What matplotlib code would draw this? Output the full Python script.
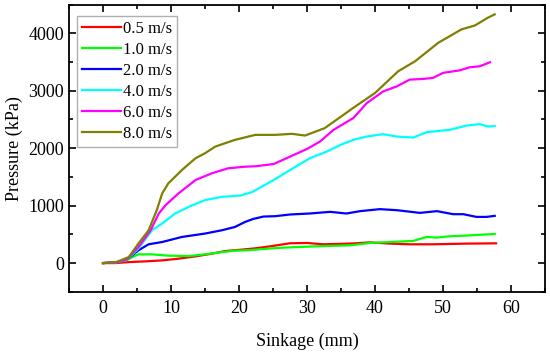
import numpy as np
import matplotlib.pyplot as plt
from matplotlib.ticker import MultipleLocator

plt.rcParams['font.family'] = ['Liberation Serif', 'DejaVu Serif']

# sinkage (mm) / pressure (kPa)
x_05 = [0, 1.8, 3.8, 6.2, 8.7, 11.1, 13.6, 16.0, 18.0, 20.4, 22.4, 24.6, 27.5, 30.0, 32.4, 36.3, 39.3, 42.2, 45.1, 48.5, 53.5, 57.8]
p_05 = [0, 0, 17, 30, 47, 77, 117, 164, 210, 234, 257, 292, 345, 350, 327, 339, 360, 339, 327, 327, 339, 344]

x_10 = [0, 2.0, 3.5, 4.3, 5.2, 7.2, 9.6, 12.6, 15.0, 17.5, 19.4, 21.4, 23.5, 26.5, 31.4, 36.3, 39.3, 42.2, 45.6, 47.6, 49.1, 51.0, 53.5, 55.9, 57.6]
p_10 = [0, 15, 50, 105, 152, 152, 129, 122, 152, 192, 215, 225, 245, 269, 292, 309, 350, 367, 385, 455, 444, 467, 479, 496, 507]

x_20 = [0, 2.0, 3.5, 5.2, 6.7, 8.7, 11.6, 15.0, 17.5, 19.4, 20.9, 22.1, 23.6, 25.3, 27.5, 30.4, 33.4, 35.8, 37.8, 40.7, 43.2, 46.6, 49.1, 51.5, 53.0, 54.9, 56.4, 57.6]
p_20 = [0, 15, 60, 222, 327, 367, 455, 514, 572, 629, 717, 769, 810, 816, 846, 863, 892, 863, 904, 939, 921, 874, 904, 851, 851, 804, 804, 822]

x_40 = [0, 2.0, 3.5, 5.2, 7.2, 8.7, 10.6, 12.6, 15.0, 17.5, 20.2, 21.9, 23.5, 25.1, 27.5, 30.4, 32.9, 34.9, 36.8, 38.8, 41.2, 43.2, 45.6, 47.6, 51.0, 53.5, 55.4, 56.6, 57.6]
p_40 = [0, 15, 60, 252, 572, 689, 863, 979, 1096, 1154, 1175, 1235, 1340, 1446, 1620, 1825, 1940, 2057, 2145, 2203, 2244, 2203, 2185, 2279, 2320, 2395, 2419, 2377, 2384]

x_60 = [0, 2.0, 3.5, 5.2, 7.0, 8.2, 9.2, 11.1, 13.6, 16.0, 18.4, 20.9, 22.4, 25.1, 27.5, 30.0, 31.9, 33.9, 36.8, 38.8, 41.2, 43.2, 45.1, 47.1, 48.5, 50.0, 52.5, 53.9, 55.4, 56.9]
p_60 = [0, 15, 65, 280, 570, 863, 1009, 1213, 1446, 1563, 1650, 1678, 1685, 1725, 1853, 1987, 2115, 2320, 2524, 2786, 2989, 3076, 3194, 3206, 3223, 3311, 3356, 3408, 3426, 3496]

x_80 = [0, 2.0, 3.8, 5.2, 6.7, 7.9, 8.7, 9.6, 11.6, 13.6, 15.0, 16.5, 19.4, 22.4, 25.3, 27.8, 29.7, 32.6, 37.1, 40.0, 43.4, 45.9, 49.3, 52.7, 54.7, 56.6, 57.6]
p_80 = [0, 20, 105, 340, 570, 920, 1213, 1388, 1620, 1825, 1912, 2028, 2145, 2232, 2232, 2250, 2220, 2349, 2727, 2961, 3339, 3514, 3835, 4068, 4137, 4272, 4330]

series = [
    (x_05, p_05, '0.5 m/s', '#ff0000'),
    (x_10, p_10, '1.0 m/s', '#00ff00'),
    (x_20, p_20, '2.0 m/s', '#0000ff'),
    (x_40, p_40, '4.0 m/s', '#00ffff'),
    (x_60, p_60, '6.0 m/s', '#ff00ff'),
    (x_80, p_80, '8.0 m/s', '#808000'),
]

fig = plt.figure(figsize=(5.5, 3.52), dpi=100)
ax = fig.add_axes([0.1255, 0.171, 0.8655, 0.816])

for xs, ps, lab, col in series:
    ax.plot(xs, ps, color=col, lw=1.6, label=lab)

ax.set_xlim(-5, 65)
ax.set_ylim(-500, 4500)
ax.xaxis.set_major_locator(MultipleLocator(10))
ax.xaxis.set_minor_locator(MultipleLocator(5))
ax.yaxis.set_major_locator(MultipleLocator(1000))
ax.yaxis.set_minor_locator(MultipleLocator(500))
ax.tick_params(which='both', direction='in', top=True, right=True,
               labeltop=False, labelright=False, width=1.2, labelsize=13)
ax.tick_params(which='major', length=5)
ax.tick_params(which='minor', length=3)
ax.tick_params(axis='x', which='major', pad=6)
for s in ax.spines.values():
    s.set_linewidth(1.3)

ax.set_xlabel('Sinkage (mm)', fontsize=13, labelpad=11)
ax.set_ylabel('Pressure (kPa)', fontsize=13, labelpad=4)

leg = ax.legend(loc='upper left', fontsize=12, handlelength=2.3, labelspacing=0.3,
                handletextpad=0.15, borderpad=0.3, borderaxespad=0.5,
                fancybox=False, framealpha=1, bbox_to_anchor=(0.0, 0.99))
leg.get_frame().set_edgecolor('#b0b0b0')
leg.get_frame().set_linewidth(1.0)

fig.savefig('out.png', dpi=100)
